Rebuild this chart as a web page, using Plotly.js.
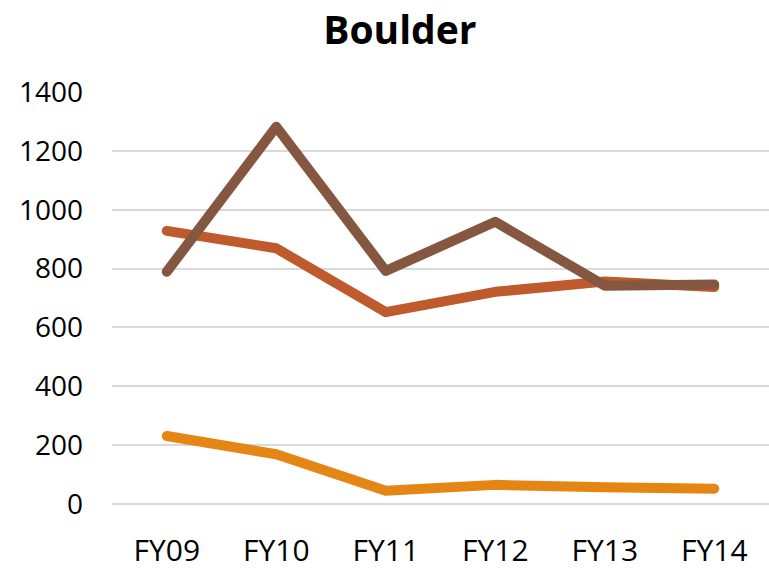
<!DOCTYPE html>
<html>
<head>
<meta charset="utf-8">
<script src="https://cdn.plot.ly/plotly-3.0.1.min.js"></script>
<style>
html,body{margin:0;padding:0;background:#fff;}
#chart{width:769px;height:569px;}
.scatterlayer path.js-line{stroke-linecap:round !important;stroke-linejoin:round !important;}
</style>
</head>
<body>
<div id="chart"></div>
<script>
var categories = ["FY09","FY10","FY11","FY12","FY13","FY14"];
var seriesOrange = [231, 169, 45, 65, 57, 52];
var seriesRust = [928, 869, 652, 721, 756, 737];
var seriesBrown = [789, 1282, 792, 959, 742, 746];
var yTicks = [0, 200, 400, 600, 800, 1000, 1200, 1400];

var traces = [
  {x: categories, y: seriesOrange, type: "scatter", mode: "lines", name: "Series 3",
   line: {color: "#E58514", width: 10}},
  {x: categories, y: seriesRust, type: "scatter", mode: "lines", name: "Series 2",
   line: {color: "#BE5A2B", width: 10}},
  {x: categories, y: seriesBrown, type: "scatter", mode: "lines", name: "Series 1",
   line: {color: "#865740", width: 10}}
];

var layout = {
  width: 769, height: 569,
  margin: {l: 112, r: 0, t: 92, b: 65},
  paper_bgcolor: "#ffffff", plot_bgcolor: "#ffffff",
  showlegend: false,
  font: {family: "Open Sans, sans-serif", color: "#000000"},
  title: {text: "<b>Boulder</b>", font: {family: "Open Sans, sans-serif", size: 39, color: "#000000"},
          x: 0.52, xanchor: "center", y: 0.97, yanchor: "top"},
  xaxis: {
    type: "category", tickvals: categories, ticktext: categories, range: [-0.5, 5.5],
    showgrid: false, zeroline: false, showline: false, ticks: "",
    tickfont: {size: 30, color: "#000000"}, ticklabelstandoff: 26
  },
  yaxis: {
    range: [0, 1400], tickvals: yTicks, ticktext: yTicks.map(String),
    showgrid: true, gridcolor: "#d9d9d9", gridwidth: 2,
    zeroline: true, zerolinecolor: "#d9d9d9", zerolinewidth: 2,
    showline: false, ticks: "",
    tickfont: {size: 28, color: "#000000"}, ticklabelstandoff: 28
  }
};

Plotly.newPlot("chart", traces, layout, {displayModeBar: false, staticPlot: true});
</script>
</body>
</html>
